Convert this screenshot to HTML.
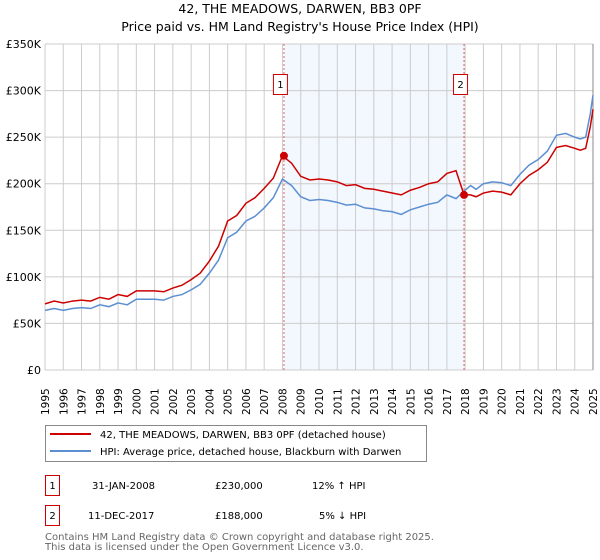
<!DOCTYPE html>
<html><head><meta charset="utf-8"><style>
body{margin:0;background:#fff;font-family:"Liberation Sans","DejaVu Sans",sans-serif}
svg{display:block}
</style></head><body>
<svg id="chart" width="600" height="560" viewBox="0 0 600 560" xmlns="http://www.w3.org/2000/svg" font-family="DejaVu Sans, Liberation Sans, sans-serif">
<text x="300" y="13" text-anchor="middle" font-size="12.5">42, THE MEADOWS, DARWEN, BB3 0PF</text>
<text x="300" y="31" text-anchor="middle" font-size="12.5">Price paid vs. HM Land Registry's House Price Index (HPI)</text>
<g id="grid"></g>
<g id="marks"></g>
<g id="axes"></g>
<g>
<rect x="45.5" y="425.5" width="381" height="36" fill="#fff" stroke="#888"/>
<line x1="50" y1="434" x2="91" y2="434" stroke="#cc0000" stroke-width="2"/>
<text x="100" y="438" font-size="10">42, THE MEADOWS, DARWEN, BB3 0PF (detached house)</text>
<line x1="50" y1="451" x2="91" y2="451" stroke="#5b8fd1" stroke-width="2"/>
<text x="100" y="455" font-size="10">HPI: Average price, detached house, Blackburn with Darwen</text>
</g>
<g font-size="10">
<rect x="45.5" y="475.5" width="14" height="20" fill="#fff" stroke="#cc0000"/>
<text x="52.5" y="489" text-anchor="middle">1</text>
<text x="92" y="489">31-JAN-2008</text>
<text x="215" y="489">£230,000</text>
<text x="312" y="489">12% ↑ HPI</text>
</g>
<g font-size="10">
<rect x="45.5" y="505.5" width="14" height="20" fill="#fff" stroke="#cc0000"/>
<text x="52.5" y="519" text-anchor="middle">2</text>
<text x="88" y="519">11-DEC-2017</text>
<text x="215" y="519">£188,000</text>
<text x="319" y="519">5% ↓ HPI</text>
</g>
<text x="45" y="540" font-size="10" fill="#666">Contains HM Land Registry data © Crown copyright and database right 2025.</text>
<text x="45" y="550" font-size="10" fill="#666">This data is licensed under the Open Government Licence v3.0.</text>
</svg>
<script>
const hpiYears=[1995,1995.5,1996,1996.5,1997,1997.5,1998,1998.5,1999,1999.5,2000,2000.5,2001,2001.5,2002,2002.5,2003,2003.5,2004,2004.5,2005,2005.5,2006,2006.5,2007,2007.5,2008,2008.5,2009,2009.5,2010,2010.5,2011,2011.5,2012,2012.5,2013,2013.5,2014,2014.5,2015,2015.5,2016,2016.5,2017,2017.5,2017.94,2018.3,2018.6,2019,2019.5,2020,2020.5,2021,2021.5,2022,2022.5,2023,2023.5,2024,2024.3,2024.6,2024.85,2025];
const hpiValues=[64,66,64,66,67,66,70,68,72,70,76,76,76,75,79,81,86,92,104,118,142,148,160,165,174,185,205,198,186,182,183,182,180,177,178,174,173,171,170,167,172,175,178,180,188,184,192,198,194,200,202,201,198,210,220,226,235,252,254,250,248,250,275,295];
const priceValues=[71,74,72,74,75,74,78,76,81,79,85,85,85,84,88,91,97,104,117,133,160,166,179,185,195,206,230,222,208,204,205,204,202,198,199,195,194,192,190,188,193,196,200,202,211,214,188,188,186,190,192,191,188,200,209,215,223,239,241,238,236,238,261,280];
const sales=[{x:2008.08,v:230,n:"1"},{x:2017.94,v:188,n:"2"}];
const yTicks=[0,50,100,150,200,250,300,350];
const xTicks=[1995,1996,1997,1998,1999,2000,2001,2002,2003,2004,2005,2006,2007,2008,2009,2010,2011,2012,2013,2014,2015,2016,2017,2018,2019,2020,2021,2022,2023,2024,2025];
const NS="http://www.w3.org/2000/svg";
const X0=45,X1=593,Y0=370,Y1=44;
const xs=t=>X0+(t-1995)/30*(X1-X0);
const ys=v=>Y0-v/350*(Y0-Y1);
function mk(tag,attrs,parent){const e=document.createElementNS(NS,tag);for(const k in attrs)e.setAttribute(k,attrs[k]);parent.appendChild(e);return e;}
const grid=document.getElementById('grid'),marks=document.getElementById('marks'),axes=document.getElementById('axes');
const band=mk('rect',{x:xs(sales[0].x),y:Y1,width:xs(sales[1].x)-xs(sales[0].x),height:Y0-Y1,fill:'#eef3fd',opacity:0.7},grid);


xTicks.forEach(t=>{
 const l=mk('line',{x1:xs(t),x2:xs(t),y1:Y1,y2:Y0,stroke:'#cccccc'},grid);
 
 
 const tx=mk('text',{transform:`translate(${xs(t)+4},${Y0+45}) rotate(-90)`,'font-size':'10.5'},axes);
 tx.textContent=t;
 
 
});
yTicks.forEach(v=>{
 const l=mk('line',{x1:X0,x2:X1,y1:ys(v),y2:ys(v),stroke:'#cccccc'},grid);
 
 
 const tx=mk('text',{x:X0-4,y:ys(v)+4,'text-anchor':'end','font-size':'11'},axes);
 tx.textContent=v===0?'£0':'£'+v+'K';
 
 
});
const rb=mk('line',{x1:X1,x2:X1,y1:Y1,y2:Y0,stroke:'#888'},grid);


sales.forEach(s=>{
 const l=mk('line',{x1:xs(s.x),x2:xs(s.x),y1:Y1,y2:Y0,stroke:'#e06060','stroke-dasharray':'2,2'},grid);
 
 
});
const hp=mk('polyline',{points:hpiYears.map((t,i)=>xs(t)+','+ys(hpiValues[i])).join(' '),fill:'none',stroke:'#5b8fd1','stroke-width':1.5},marks);


const pp=mk('polyline',{points:hpiYears.map((t,i)=>xs(t)+','+ys(priceValues[i])).join(' '),fill:'none',stroke:'#cc0000','stroke-width':1.5},marks);


sales.forEach(s=>{
 const c=mk('circle',{cx:xs(s.x),cy:ys(s.v),r:4,fill:'#cc0000'},marks);
 
 
 const bx=xs(s.x)-11;
 const r=mk('rect',{x:bx+0.5,y:74.5,width:14,height:20,fill:'#fff',stroke:'#cc0000'},marks);
 
 
 const tx=mk('text',{x:bx+7.5,y:88,'text-anchor':'middle','font-size':'10'},marks);
 tx.textContent=s.n;
 
 
});
</script>
</body></html>
